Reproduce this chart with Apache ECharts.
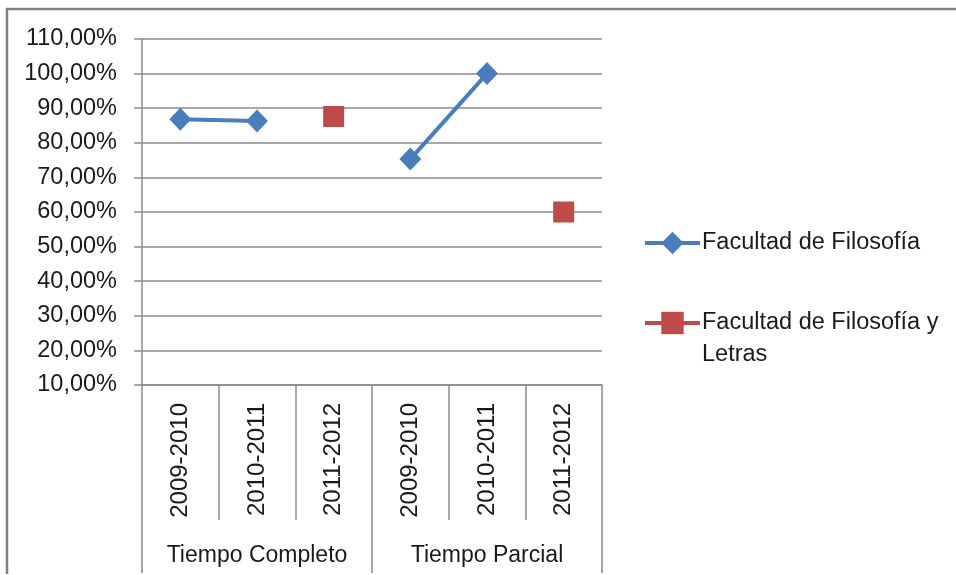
<!DOCTYPE html>
<html>
<head>
<meta charset="utf-8">
<script src="https://cdn.jsdelivr.net/npm/echarts@6/dist/echarts.min.js"></script>
<style>
html,body{margin:0;padding:0;background:#fff;}
#chart{width:956px;height:575px;}
</style>
</head>
<body>
<div id="chart"></div>
<script>
var categories = ['2009-2010','2010-2011','2011-2012','2009-2010','2010-2011','2011-2012'];
var groups = ['Tiempo Completo','Tiempo Parcial'];
var seriesNames = ['Facultad de Filosofía','Facultad de Filosofía y Letras'];
var filosofia = [86.8, 86.3, null, 75.3, 100.0, null];
var filosofiaLetras = [null, null, 87.6, null, null, 60.0];
var yMin = 10, yMax = 110, yStep = 10;

var FONT = 'Liberation Sans';
var chart = echarts.init(document.getElementById('chart'), null, {renderer:'canvas'});
var gray = '#8c8c8c';
var txt = '#1a1a1a';
chart.setOption({
  animation:false,
  textStyle:{fontFamily:FONT},
  grid:{left:142,right:354,top:39,bottom:190,containLabel:false},
  legend:{
    orient:'vertical', left:643, top:231, itemGap:56, padding:0,
    itemWidth:55, itemHeight:28,
    lineStyle:{width:4},
    textStyle:{fontFamily:FONT,fontSize:23.5,color:txt,padding:[0,0,0,-3]},
    formatter:function(n){ return n==='Facultad de Filosofía y Letras' ? 'Facultad de Filosofía y' : n; },
    data:seriesNames
  },
  xAxis:[{
    type:'category', data:categories, position:'bottom',
    axisLine:{show:true,lineStyle:{color:gray,width:1.5}},
    axisTick:{show:true,interval:0,length:135,lineStyle:{color:gray,width:1.5}},
    axisLabel:{interval:0,rotate:90,margin:18,fontSize:24,color:txt,fontFamily:FONT},
    splitLine:{show:false}
  },{
    type:'category', data:groups, position:'bottom', offset:0,
    axisLine:{show:false},
    axisTick:{show:true,interval:0,length:188,lineStyle:{color:gray,width:1.5}},
    axisLabel:{interval:0,margin:159,fontSize:23,color:txt,fontFamily:FONT},
    splitLine:{show:false}
  }],
  yAxis:{
    type:'value', min:yMin, max:yMax, interval:yStep,
    axisLine:{show:true,lineStyle:{color:gray,width:1.5}},
    axisTick:{show:true,length:8,lineStyle:{color:gray,width:1.5}},
    axisLabel:{margin:25,fontSize:23.5,color:txt,fontFamily:FONT,
      formatter:function(v){return v.toFixed(2).replace('.',',')+'%';}},
    splitLine:{show:true,lineStyle:{color:gray,width:1.5}}
  },
  series:[{
    name:seriesNames[0], type:'line', data:filosofia, xAxisIndex:0,
    symbol:'diamond', symbolSize:[22,23], connectNulls:false,
    lineStyle:{color:'#4A7EBB',width:4}, itemStyle:{color:'#4A7EBB'}
  },{
    name:seriesNames[1], type:'line', data:filosofiaLetras, xAxisIndex:0,
    symbol:'rect', symbolSize:21,
    lineStyle:{color:'#BE4B48',width:4}, itemStyle:{color:'#BE4B48'}
  }],
  graphic:[{
    type:'polyline', silent:true,
    shape:{points:[[7,574],[7,9],[956,9]]},
    style:{stroke:'#808080',lineWidth:2.5,fill:null}
  },{
    type:'text', silent:true, left:702, top:343,
    style:{text:'Letras',font:'23.5px "Liberation Sans"',fill:txt}
  }]
});
</script>
</body>
</html>
